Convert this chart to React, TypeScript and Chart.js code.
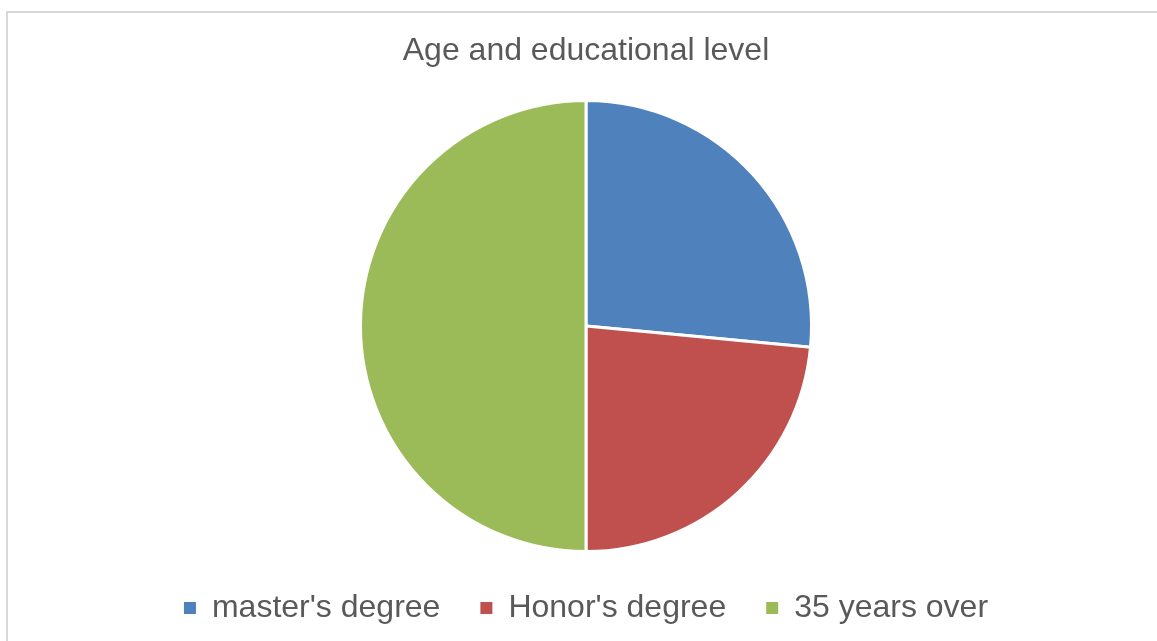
import React, { useEffect, useRef } from "react";
import { Chart, registerables } from "chart.js";

Chart.register(...registerables);

const chartTitle = "Age and educational level";
const categories = ["master's degree", "Honor's degree", "35 years over"];
const values = [26.5, 23.5, 50];
const colors = ["#4F81BD", "#C0504D", "#9BBB59"];

export default function App() {
  const ref = useRef<HTMLCanvasElement | null>(null);

  useEffect(() => {
    if (!ref.current) return;
    const chart = new Chart(ref.current, {
      type: "pie",
      data: {
        labels: categories,
        datasets: [
          {
            data: values,
            backgroundColor: colors,
            borderColor: "#ffffff",
            borderWidth: 3,
            clip: false as any,
          } as any,
        ],
      },
      options: {
        responsive: false,
        animation: false,
        radius: 225.5,
        layout: { padding: { left: 15, right: 0, top: 0, bottom: 7 } },
        plugins: {
          title: {
            display: true,
            text: chartTitle,
            color: "#595959",
            font: { family: "'Liberation Sans', Arial, sans-serif", size: 32, weight: "normal" },
            padding: { top: 31.8, bottom: 29.8 },
          },
          legend: {
            display: true,
            position: "bottom",
            labels: {
              color: "#595959",
              font: { family: "'Liberation Sans', Arial, sans-serif", size: 32 },
              boxWidth: 12,
              boxHeight: 12,
              padding: 40,
              generateLabels: (c: any) =>
                categories.map((label, i) => ({
                  text: label,
                  fillStyle: colors[i],
                  strokeStyle: colors[i],
                  lineWidth: 0,
                  fontColor: "#595959",
                  hidden: false,
                  index: i,
                })),
            },
          },
          tooltip: { enabled: false },
        },
      } as any,
    });
    return () => chart.destroy();
  }, []);

  return (
    <div style={{ position: "fixed", left: 0, top: 0, width: 1157, height: 641, background: "#fff", overflow: "hidden" }}>
      <div
        style={{
          position: "absolute",
          left: 6,
          top: 11,
          width: 1300,
          height: 800,
          borderTop: "2px solid #d9d9d9",
          borderLeft: "2px solid #d9d9d9",
        }}
      />
      <canvas ref={ref} width={1157} height={641} style={{ position: "absolute", left: 0, top: 0, display: "block" }} />
    </div>
  );
}
